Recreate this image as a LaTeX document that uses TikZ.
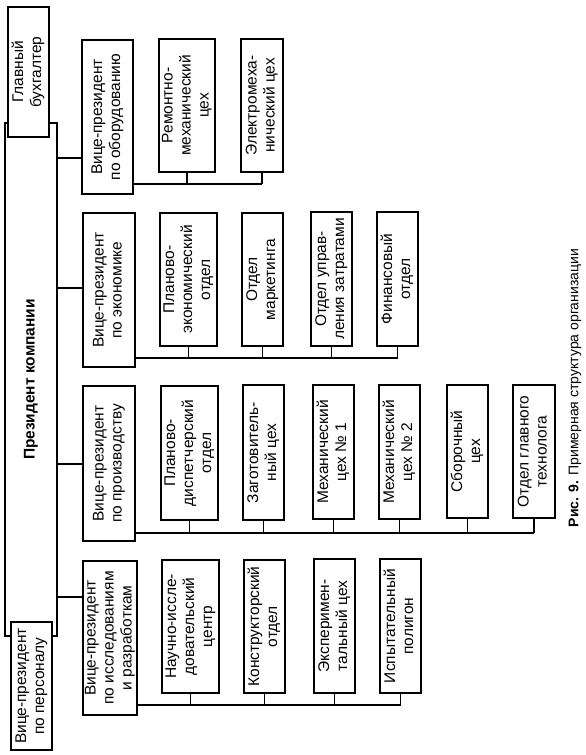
\documentclass[tikz,border=0pt]{standalone}
\usepackage{fontspec}
\setmainfont{Liberation Sans}
\newcommand\rt[1]{\rotatebox{90}{\begin{tabular}{@{}c@{}}#1\end{tabular}}}
\newcommand\bx[6]{\node[box, minimum width={#4-#2}, minimum height={#5-#3}]
  (#1) at ({(#2+#4)/2},{(#3+#5)/2}) {\rt{#6}};}
\begin{document}
\begin{tikzpicture}[x=1pt,y=-1pt,
  box/.style={draw, line width=1.1pt, fill=white, inner sep=0pt,
    font=\fontsize{15.5}{18}\selectfont},
  conn/.style={line width=1.1pt}]
\path[use as bounding box] (0,0) rectangle (586,755);
% president
\bx{pres}{5}{123}{57}{636}{\textbf{Президент компании}}
\bx{glav}{8}{7}{49}{137}{Главный\\бухгалтер}
\bx{pers}{11}{622}{52}{750}{Вице-президент\\по персоналу}
% vice-presidents
\bx{vp1}{82}{40}{133}{194}{Вице-президент\\по оборудованию}
\bx{vp2}{83}{213}{135}{367}{Вице-президент\\по экономике}
\bx{vp3}{83}{386}{135}{541}{Вице-президент\\по производству}
\bx{vp4}{84}{561}{136}{715}{Вице-президент\\по исследованиям\\и разработкам}
% units
\bx{a1}{159}{39}{215}{172}{Ремонтно-\\механический\\цех}
\bx{a2}{241}{39}{283}{172}{Электромеха-\\нический цех}
\bx{b1}{160}{213}{217}{346}{Планово-\\экономический\\отдел}
\bx{b2}{242}{213}{283}{346}{Отдел\\маркетинга}
\bx{b3}{311}{212}{352}{346}{Отдел управ-\\ления затратами}
\bx{b4}{377}{212}{418}{346}{Финансовый\\отдел}
\bx{c1}{161}{386}{218}{520}{Планово-\\диспетчерский\\отдел}
\bx{c2}{243}{385}{284}{520}{Заготовитель-\\ный цех}
\bx{c3}{313}{385}{354}{519}{Механический\\цех № 1}
\bx{c4}{379}{385}{420}{519}{Механический\\цех № 2}
\bx{c5}{447}{385}{488}{518}{Сборочный\\цех}
\bx{c6}{513}{385}{555}{518}{Отдел главного\\технолога}
\bx{d1}{162}{560}{219}{693}{Научно-иссле-\\довательский\\центр}
\bx{d2}{244}{560}{285}{693}{Конструкторский\\отдел}
\bx{d3}{314}{559}{355}{693}{Эксперимен-\\тальный цех}
\bx{d4}{380}{559}{421}{693}{Испытательный\\полигон}
% connector levels
\coordinate (h1) at (0,158);
\coordinate (h2) at (0,288);
\coordinate (h3) at (0,464);
\coordinate (h4) at (0,597);
\coordinate (l1) at (0,184);
\coordinate (l2) at (0,358);
\coordinate (l3) at (0,533);
\coordinate (l4) at (0,705);
\draw[conn] (pres.east |- h1) -- (vp1.west |- h1);
\draw[conn] (pres.east |- h2) -- (vp2.west |- h2);
\draw[conn] (pres.east |- h3) -- (vp3.west |- h3);
\draw[conn] (pres.east |- h4) -- (vp4.west |- h4);
% buses
\draw[conn] (vp1.east |- l1) -- (a2.south |- l1);
\foreach \n in {a1,a2} \draw[conn] (\n.south) -- (\n.south |- l1);
\draw[conn] (vp2.east |- l2) -- (b4.south |- l2);
\foreach \n in {b1,b2,b3,b4} \draw[conn] (\n.south) -- (\n.south |- l2);
\draw[conn] (vp3.east |- l3) -- (c6.south |- l3);
\foreach \n in {c1,c2,c3,c4,c5,c6} \draw[conn] (\n.south) -- (\n.south |- l3);
\draw[conn] (vp4.east |- l4) -- (d4.south |- l4);
\foreach \n in {d1,d2,d3,d4} \draw[conn] (\n.south) -- (\n.south |- l4);
% caption
\node[rotate=90, font=\fontsize{14}{17}\selectfont] (cap) at (575,388)
  {\textbf{Рис. 9.} Примерная структура организации};
\end{tikzpicture}
\end{document}
